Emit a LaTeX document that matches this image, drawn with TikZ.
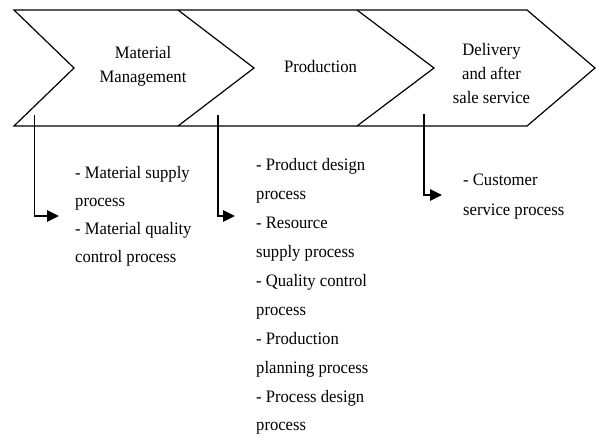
\documentclass[tikz,border=0pt]{standalone}
\usepackage{fontspec}
\setmainfont{Liberation Serif}[FakeStretch=0.95]
\usetikzlibrary{arrows.meta}
\begin{document}
\begin{tikzpicture}[x=1pt,y=-1pt,
  outline/.style={line width=1.2pt, line join=miter},
  flow/.style={line width=1.1pt, -{Triangle[length=12pt,width=11.5pt]}},
  stage/.style={align=center, inner sep=0pt, anchor=north, font=\fontsize{17.5}{24}\selectfont},
  items/.style={align=left, inner sep=0pt, anchor=north west, font=\fontsize{17.5}{28.5}\selectfont}]
\useasboundingbox (0,0) rectangle (597,437);

% value chain band: outer outline of the three chevrons
\draw[outline] (14,10) -- (527,10) -- (595,68) -- (527,126) -- (14,126) -- (74,68) -- cycle;
% borders between the stages
\draw[outline] (178,10) -- (254,68) -- (178,126);
\draw[outline] (357,10) -- (434,68) -- (357,126);

% stage titles
\node[stage] (material) at (143,46.5) {Material\\Management};
\node[stage] (production) at (320.5,60) {Production};
\node[stage] (delivery) at (491.5,43.5) {Delivery\\and after\\sale service};

% processes of each stage
\node[items, font=\fontsize{17.5}{28}\selectfont] (matlist) at (75,166)
  {- Material supply\\process\\- Material quality\\control process};
\node[items, font=\fontsize{17.5}{28.9}\selectfont] (prodlist) at (256,158.5)
  {- Product design\\process\\- Resource\\supply process\\- Quality control\\process\\- Production\\planning process\\- Process design\\process};
\node[items, font=\fontsize{17.5}{30}\selectfont] (dellist) at (463,173.5)
  {- Customer\\service process};

% connectors from the stages to their processes
\coordinate (matsrc) at (34.5,115);
\coordinate (matdst) at (59,216);
\coordinate (prodsrc) at (218,115);
\coordinate (proddst) at (235,216);
\coordinate (delsrc) at (424,114);
\coordinate (deldst) at (442,195);
\draw[flow] (matsrc) |- (matdst);
\draw[flow] (prodsrc) |- (proddst);
\draw[flow] (delsrc) |- (deldst);
\end{tikzpicture}
\end{document}
